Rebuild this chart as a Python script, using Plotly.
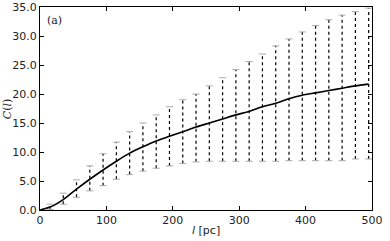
import plotly.graph_objects as go

# data
l_line = [0, 15, 35, 55, 75, 95, 115, 135, 155, 175, 195, 215, 235, 255, 275,
          295, 315, 335, 355, 375, 395, 415, 435, 455, 475, 495]
c_line = [0.0, 0.5, 1.8, 3.6, 5.3, 6.9, 8.4, 9.8, 10.9, 11.9, 12.7, 13.5, 14.3,
          15.0, 15.7, 16.4, 17.0, 17.8, 18.4, 19.2, 19.8, 20.2, 20.6, 21.0, 21.4, 21.7]
err_up = [0.0, 0.5, 1.1, 1.6, 2.3, 2.8, 3.3, 3.7, 4.1, 4.5, 5.1, 5.5, 5.7,
          6.4, 7.1, 7.8, 8.6, 9.1, 9.9, 10.3, 10.9, 11.6, 12.2, 12.6, 12.8, 13.1]
err_dn = [0.0, 0.4, 0.8, 1.4, 2.0, 2.7, 3.1, 3.7, 4.2, 4.7, 5.1, 5.5, 6.0,
          6.6, 7.3, 8.0, 8.6, 9.4, 10.0, 10.7, 11.3, 11.7, 12.1, 12.5, 12.6, 12.9]

x_ticks = [0, 100, 200, 300, 400, 500]
y_ticks = [0, 5, 10, 15, 20, 25, 30, 35]

# build dotted error bar segments
bx, by, cx, cy = [], [], [], []
for x, m, u, d in zip(l_line, c_line, err_up, err_dn):
    if u == 0 and d == 0:
        continue
    bx += [x, x, None]
    by += [m - d, m + u, None]
    cx += [x, x]
    cy += [m - d, m + u]

fig = go.Figure()
fig.add_trace(go.Scatter(x=bx, y=by, mode="lines",
                         line=dict(color="black", width=1.2, dash="dot"),
                         hoverinfo="skip", showlegend=False))
fig.add_trace(go.Scatter(x=cx, y=cy, mode="markers",
                         marker=dict(symbol="line-ew", size=5,
                                     line=dict(color="#aaaaaa", width=1)),
                         hoverinfo="skip", showlegend=False))
fig.add_trace(go.Scatter(x=l_line, y=c_line, mode="lines",
                         line=dict(color="black", width=1.6, shape="spline", smoothing=0.8),
                         showlegend=False))

axis_common = dict(showline=True, linecolor="black", linewidth=1, mirror="ticks",
                   ticks="inside", ticklen=4, tickcolor="black", showgrid=False,
                   zeroline=False, automargin=False,
                   tickfont=dict(family="DejaVu Sans", size=11, color="#222222"))

fig.update_xaxes(range=[0, 500], tickvals=x_ticks, ticktext=[str(v) for v in x_ticks],
                 **axis_common)
fig.update_yaxes(range=[0, 35], tickvals=y_ticks, ticktext=[f"{v:.1f}" for v in y_ticks],
                 **axis_common)

fig.update_layout(
    width=390, height=241,
    margin=dict(l=40, r=18, t=7, b=31),
    paper_bgcolor="white", plot_bgcolor="white",
    annotations=[
        dict(text="(a)", xref="paper", yref="paper", x=0.015, y=0.975,
             xanchor="left", yanchor="top", showarrow=False,
             font=dict(family="DejaVu Serif", size=11, color="#222222")),
        dict(text="<i>l</i> [pc]", xref="paper", yref="paper", x=0.5, y=-0.103,
             xanchor="center", yanchor="middle", showarrow=False,
             font=dict(family="DejaVu Sans", size=11, color="#222222")),
        dict(text="<i>C</i>(<i>l</i>)", xref="paper", yref="paper", x=-0.097, y=0.5,
             xanchor="center", yanchor="middle", showarrow=False, textangle=-90,
             font=dict(family="DejaVu Serif", size=11, color="#222222")),
    ],
)

fig.write_html("out.html", config={"displayModeBar": False},
               post_script="document.body.style.margin='0';document.body.style.padding='0';")
